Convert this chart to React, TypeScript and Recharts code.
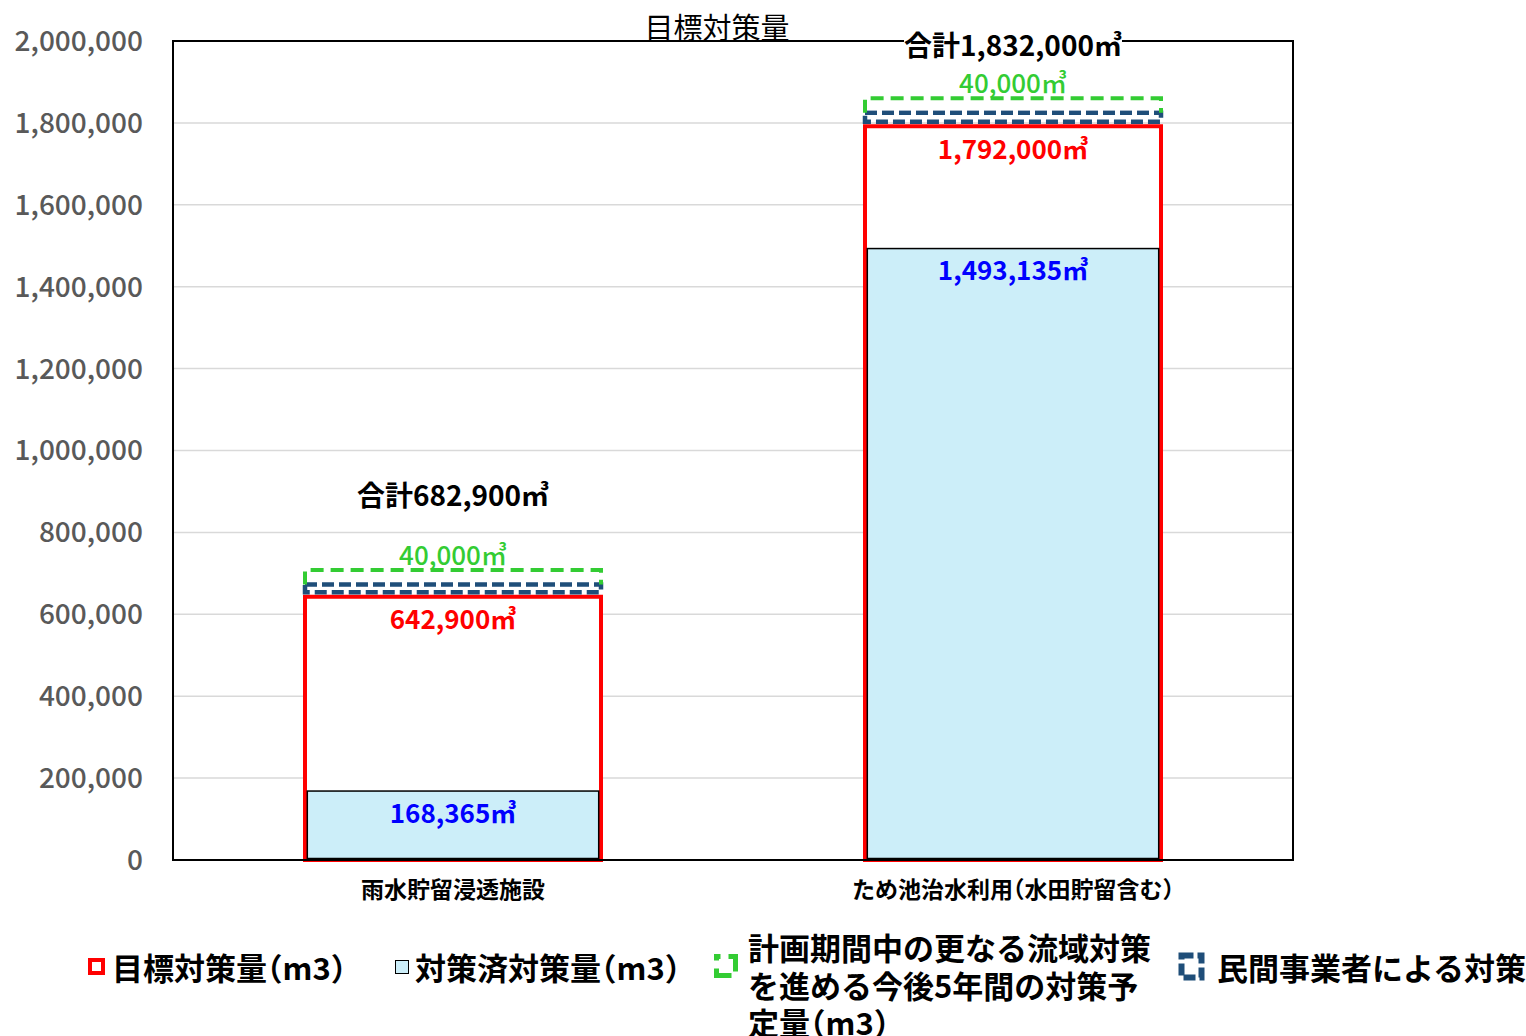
import React from 'react';
import { ComposedChart, Bar, XAxis, YAxis, CartesianGrid, LabelList, ReferenceArea } from 'recharts';

const categories = ['雨水貯留浸透施設', 'ため池治水利用（水田貯留含む）'];
const targetValues = [642900, 1792000];
const achievedValues = [168365, 1493135];
const privateValues = [25000, 28000];
const planValues = [40000, 40000];
const totalValues = [682900, 1832000];
const yTicks = [0, 200000, 400000, 600000, 800000, 1000000, 1200000, 1400000, 1600000, 1800000, 2000000];

const data = categories.map((name, i) => ({
  name,
  target: targetValues[i],
  achieved: achievedValues[i],
  private: privateValues[i],
  plan: planValues[i],
  total: totalValues[i],
}));

const JP = '"Noto Sans CJK JP", "Noto Sans", sans-serif';
const PLOT_TOP = 41;
const fmt = (v: number) => Number(v).toLocaleString('en-US') + '㎥';

const TargetLabel = (p: any) => (
  <text x={p.x + p.width / 2} y={p.y + 21} textAnchor="middle" dominantBaseline="central"
    fill="#FF0000" fontSize={26} fontWeight={700} fontFamily={JP}>{fmt(p.value)}</text>
);
const AchievedLabel = (p: any) => (
  <text x={p.x + p.width / 2} y={p.y + 20} textAnchor="middle" dominantBaseline="central"
    fill="#0000FF" fontSize={26} fontWeight={700} fontFamily={JP}>{fmt(p.value)}</text>
);
const PlanLabel = (p: any) => (
  <text x={p.x + p.width / 2} y={p.y - 17} textAnchor="middle" dominantBaseline="central"
    fill="#33CC33" fontSize={26} fontWeight={500} fontFamily={JP}>{fmt(p.value)}</text>
);
const TotalLabel = (p: any) => {
  const label = '合計' + fmt(p.value);
  const s = Number(p.value).toLocaleString('en-US');
  const digits = s.replace(/,/g, '').length;
  const commas = s.length - digits;
  const w = 2 * 28 + digits * 16 + commas * 8 + 28 + 6;
  const cx = p.x + p.width / 2;
  const cy = Math.max(p.y - 76, PLOT_TOP + 3);
  return (
    <g>
      <rect x={cx - w / 2} y={cy - 16} width={w} height={32} fill="#fff" />
      <text x={cx} y={cy} textAnchor="middle" dominantBaseline="central"
        fill="#000" fontSize={28} fontWeight={700} fontFamily={JP}>{label}</text>
    </g>
  );
};

const AchievedShape = (p: any) => (
  <rect x={p.x + 2.3} y={p.y} width={Math.max(p.width - 4.6, 0)} height={Math.max(p.height - 1.5, 0)}
    fill="#CCEEF9" stroke="#000" strokeWidth={1.5} />
);

// 民間事業者による対策: dashed box, drawn slightly inside its stack segment
const PrivateShape = (p: any) => (
  <rect x={p.x} y={p.y - 2} width={p.width} height={Math.max(p.height - 2.5, 0)}
    fill="#fff" stroke="#1F4E79" strokeWidth={4.5} strokeDasharray="12 5" />
);

// 今後5年間の対策予定量: dashed box without bottom edge (it sits on the private box)
const PlanShape = (p: any) => {
  const { x, y, width: w, height: h } = p;
  const b = y + h - 2;
  return (
    <g>
      <rect x={x} y={y} width={w} height={Math.max(b - y - 2.5, 0)} fill="#fff" />
      <path d={`M${x},${b} L${x},${y} L${x + w},${y} L${x + w},${b}`} fill="none"
        stroke="#33CC33" strokeWidth={4} strokeDasharray="13 7" />
    </g>
  );
};

const legendText: React.CSSProperties = {
  position: 'absolute', fontFamily: JP, fontWeight: 700, fontSize: 31, color: '#000', whiteSpace: 'nowrap',
  fontFeatureSettings: '"halt"',
};

export default function App() {
  return (
    <div style={{ position: 'absolute', left: 0, top: 0, width: 1526, height: 1036, background: '#fff', overflow: 'hidden' }}>
      <div style={{ position: 'absolute', left: 717, top: 5, transform: 'translateX(-50%)', fontFamily: JP, fontSize: 29, fontWeight: 400, color: '#000', whiteSpace: 'nowrap' }}>
        目標対策量
      </div>
      <ComposedChart width={1526} height={1036} data={data}
        margin={{ top: PLOT_TOP, right: 233, left: 0, bottom: 116 }}
        barSize={296} barGap={-296}>
        <CartesianGrid vertical={false} stroke="#D9D9D9" strokeWidth={1.5} />
        <ReferenceArea y1={0} y2={2000000} fill="none" stroke="#000" strokeWidth={2} fillOpacity={0} />
        <XAxis dataKey="name" interval={0} tickLine={false} tickSize={0} tickMargin={22} height={60}
          axisLine={{ stroke: '#000', strokeWidth: 2 }}
          tick={{ fontSize: 23, fontWeight: 700, fill: '#000', fontFamily: JP, style: { fontFeatureSettings: '"halt"' } }} />
        <YAxis domain={[0, 2000000]} ticks={yTicks} width={173} tickLine={false} tickSize={0} tickMargin={30}
          axisLine={{ stroke: '#000', strokeWidth: 2 }}
          tickFormatter={(v: number) => v.toLocaleString('en-US')}
          tick={{ fontSize: 28, fill: '#595959', fontFamily: JP, fontWeight: 500 }} />
        <Bar dataKey="target" stackId="a" fill="#fff" stroke="#FF0000" strokeWidth={4} isAnimationActive={false}>
          <LabelList dataKey="target" content={TargetLabel} />
        </Bar>
        <Bar dataKey="achieved" stackId="b" shape={AchievedShape} isAnimationActive={false}>
          <LabelList dataKey="achieved" content={AchievedLabel} />
        </Bar>
        <Bar dataKey="private" stackId="a" shape={PrivateShape} isAnimationActive={false} />
        <Bar dataKey="plan" stackId="a" shape={PlanShape} isAnimationActive={false}>
          <LabelList dataKey="plan" content={PlanLabel} />
          <LabelList dataKey="total" content={TotalLabel} />
        </Bar>
      </ComposedChart>

      {/* Legend */}
      <div style={{ position: 'absolute', left: 88, top: 958, width: 9, height: 9, border: '4px solid #FF0000', background: '#fff' }} />
      <div style={{ ...legendText, left: 112, top: 947, lineHeight: '40px' }}>目標対策量（m3）</div>

      <div style={{ position: 'absolute', left: 395, top: 960, width: 12, height: 12, border: '1.5px solid #000', background: '#CCEEF9' }} />
      <div style={{ ...legendText, left: 415, top: 947, lineHeight: '40px' }}>対策済対策量（m3）</div>

      <svg style={{ position: 'absolute', left: 713, top: 953 }} width={26} height={26}>
        <rect x={3.5} y={3.5} width={19} height={19} fill="#fff" stroke="#33CC33" strokeWidth={5} strokeDasharray="22 8" strokeDashoffset={-12} />
      </svg>
      <div style={{ ...legendText, left: 748, top: 928, lineHeight: '37.5px' }}>
        計画期間中の更なる流域対策<br />を進める今後5年間の対策予<br />定量（m3）
      </div>

      <svg style={{ position: 'absolute', left: 1178, top: 952 }} width={27} height={29}>
        <rect x={3.5} y={3.5} width={20} height={22} fill="#fff" stroke="#1F4E79" strokeWidth={6} strokeDasharray="12 4" />
      </svg>
      <div style={{ ...legendText, left: 1217, top: 947, lineHeight: '40px' }}>民間事業者による対策</div>
    </div>
  );
}
